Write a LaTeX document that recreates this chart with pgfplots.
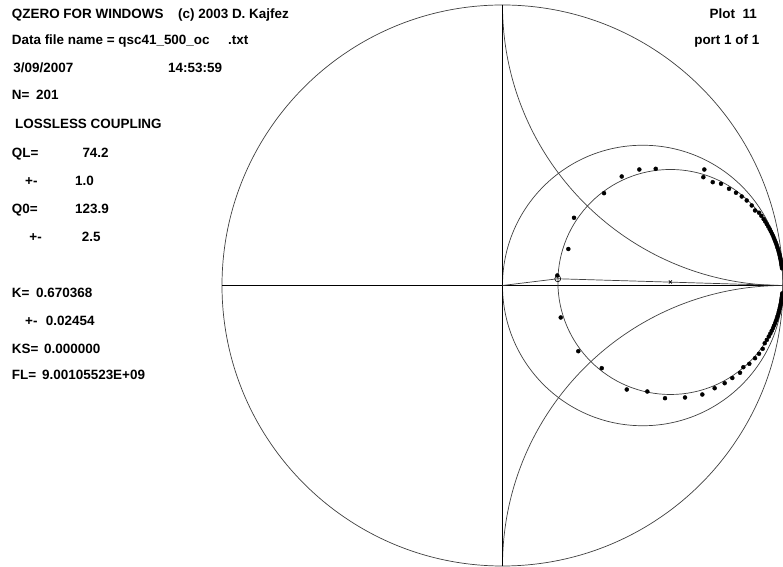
\documentclass[border=0pt]{standalone}
\usepackage{fontspec}
\setmainfont{Liberation Sans}
\usepackage{pgfplots}
\usepackage{pgfplotstable}
\pgfplotsset{compat=1.18}
\pgfplotstableread{
u v
0.1954 0.0357
0.2346 0.1301
0.2549 0.2414
0.3619 0.3291
0.4250 0.3886
0.4877 0.4135
0.5462 0.4160
0.7194 0.4135
0.7159 0.3861
0.7494 0.3683
0.7790 0.3626
0.8075 0.3447
0.8324 0.3305
0.8528 0.3173
0.8706 0.3030
0.8884 0.2852
0.9002 0.2674
0.9145 0.2594
0.9229 0.2482
0.9309 0.2367
0.9367 0.2280
0.9422 0.2190
0.9475 0.2100
0.9525 0.2008
0.9567 0.1927
0.9607 0.1845
0.9643 0.1769
0.9676 0.1692
0.9708 0.1614
0.9736 0.1543
0.9763 0.1470
0.9788 0.1397
0.9809 0.1331
0.9830 0.1264
0.9849 0.1196
0.9866 0.1136
0.9881 0.1075
0.9895 0.1013
0.9907 0.0959
0.9919 0.0904
0.9929 0.0849
0.9938 0.0801
0.9946 0.0752
0.9953 0.0704
0.9960 0.0656
0.9965 0.0614
}\upperdata
\pgfplotstableread{
u v
0.2075 -0.1141
0.2702 -0.2342
0.3537 -0.2948
0.4429 -0.3708
0.5162 -0.3779
0.5793 -0.4018
0.6506 -0.3993
0.7123 -0.3886
0.7563 -0.3662
0.7920 -0.3483
0.8193 -0.3298
0.8467 -0.3112
0.8585 -0.2913
0.8799 -0.2791
0.9002 -0.2592
0.9144 -0.2435
0.9276 -0.2257
0.9348 -0.2059
0.9422 -0.1940
0.9492 -0.1819
0.9548 -0.1714
0.9598 -0.1614
0.9643 -0.1519
0.9682 -0.1429
0.9719 -0.1338
0.9751 -0.1253
0.9781 -0.1167
0.9807 -0.1088
0.9832 -0.1007
0.9853 -0.0933
0.9872 -0.0859
0.9889 -0.0791
0.9904 -0.0722
0.9917 -0.0661
0.9929 -0.0599
0.9940 -0.0537
0.9949 -0.0482
0.9957 -0.0426
0.9963 -0.0377
0.9969 -0.0329
0.9975 -0.0280
}\lowerdata
\tikzset{t/.style={anchor=base west, inner sep=0pt, font=\fontsize{13.5}{16}\selectfont\bfseries},
  tr/.style={t, anchor=base east}}
\begin{document}
\begin{tikzpicture}[x=1bp,y=1bp]
\useasboundingbox (0,0) rectangle (783,567);
\fill[white] (0,0) rectangle (783,567);
% chart grid
\begin{scope}[black!75, line width=0.7bp]
\draw (502.5,281.5) circle[radius=280.5bp];
\draw (642.75,281.5) circle[radius=140.25bp];
\draw (502.5,562) arc[start angle=180,end angle=270,radius=280.5bp];
\draw (783,281.5) arc[start angle=90,end angle=180,radius=280.5bp];
\end{scope}
\draw[black, line width=0.7bp] (222,281.5) -- (783,281.5);
\draw[black, line width=0.7bp] (502.5,1) -- (502.5,562);
\begin{axis}[at={(222bp,1bp)}, anchor=south west, width=561bp, height=561bp,
  scale only axis, xmin=-1, xmax=1, ymin=-1, ymax=1, hide axis, clip=false]
\draw[black!75, line width=0.7bp] (axis cs:0.5985,0.0125) circle[radius=112.5bp];
\addplot[black!75, line width=0.7bp, mark=none] coordinates {(0,0) (0.197,0.024) (1,0)};
\addplot[only marks, mark=o, mark size=3bp, black, line width=0.6bp] coordinates {(0.197,0.024)};
\addplot[only marks, mark=x, mark size=2.2bp, black, line width=0.6bp] coordinates {(0.5985,0.0125)};
\addplot[only marks, mark=*, mark size=2bp, black] table[x=u,y=v] {\upperdata};
\addplot[only marks, mark=*, mark size=2bp, black] table[x=u,y=v] {\lowerdata};
\end{axis}
% texts
\node[t] at (11.7,548) {QZERO FOR WINDOWS};
\node[t] at (178,548) {(c) 2003 D. Kajfez};
\node[t] at (11.7,522) {Data file name = qsc41\_500\_oc};
\node[t] at (228,522) {.txt};
\node[t] at (13.3,494.5) {3/09/2007};
\node[t] at (168,494.5) {14:53:59};
\node[t] at (11.7,467.7) {N=};
\node[t] at (36,467.7) {201};
\node[t] at (15,438.7) {LOSSLESS COUPLING};
\node[t] at (11.7,409.7) {QL=};
\node[t] at (82.3,409.7) {74.2};
\node[t] at (25,381) {+-};
\node[t] at (75,381) {1.0};
\node[t] at (11.7,353) {Q0=};
\node[t] at (75,353) {123.9};
\node[t] at (29.3,325.3) {+-};
\node[t] at (81.7,325.3) {2.5};
\node[t] at (11.7,269.3) {K=};
\node[t] at (36,269.3) {0.670368};
\node[t] at (25,241) {+-};
\node[t] at (45.7,241) {0.02454};
\node[t] at (11.7,213.5) {KS=};
\node[t] at (44,213.5) {0.000000};
\node[t] at (11.7,187) {FL=};
\node[t] at (42,187) {9.00105523E+09};
\node[tr] at (757,548) {Plot\ \ 11};
\node[tr] at (759.5,522) {port 1 of 1};
\end{tikzpicture}
\end{document}
